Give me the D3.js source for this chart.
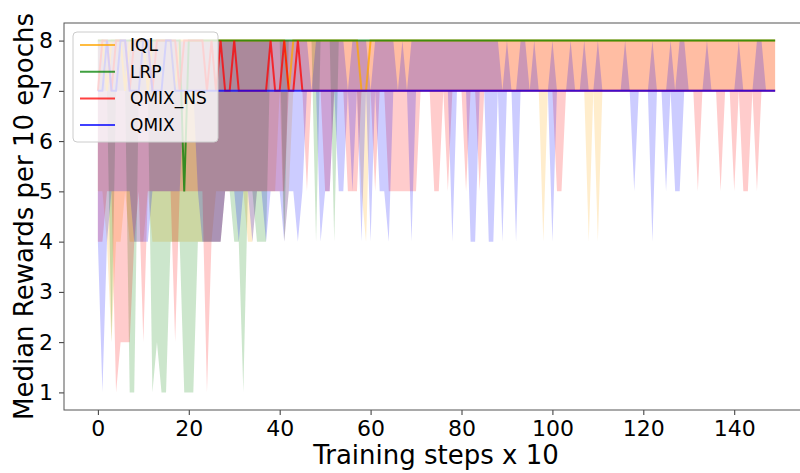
<!DOCTYPE html>
<html>
<head>
<meta charset="utf-8">
<script src="https://cdn.jsdelivr.net/npm/d3@7/dist/d3.min.js"></script>
<style>
  body { margin: 0; background: #fff; }
  text { font-family: "DejaVu Sans", sans-serif; fill: #000; }
</style>
</head>
<body>
<div id="chart"></div>
<script>
// series names and colours (legend order)
var seriesNames = ["IQL", "LRP", "QMIX_NS", "QMIX"];
var seriesColors = ["#ffa500", "#008000", "#ff0000", "#0000ff"];

// tick labels
var xTicks = [0, 20, 40, 60, 80, 100, 120, 140];
var yTicks = [1, 2, 3, 4, 5, 6, 7, 8];

// IQL median / lower / upper per training step
var iqlMed = [
  8,8,7,8,8,8,7,8,8,8, 8,7,8,8,8,8,8,7,8,8, 8,8,8,8,8,8,8,8,8,8,
  8,8,8,8,8,8,8,8,8,8, 8,8,7,8,8,8,8,8,8,8, 8,8,8,8,8,8,8,8,7,7,
  8,8,8,8,8,8,8,8,8,8, 8,8,8,8,8,8,8,8,8,8, 8,8,8,8,8,8,8,8,8,8,
  8,8,8,8,8,8,8,8,8,8, 8,8,8,8,8,8,8,8,8,8, 8,8,8,8,8,8,8,8,8,8,
  8,8,8,8,8,8,8,8,8,8, 8,8,8,8,8,8,8,8,8,8, 8,8,8,8,8,8,8,8,8,8
];
var iqlLo = [
  5,5,4,2,4,4,5,4,4,4, 4,5,4,4,4,4,4,4,4,4, 4,4,4,4,4,4,5,5,5,5,
  5,5,5,4,4,5,5,5,5,5, 7,4,5,7,7,7,7,7,7,7, 7,7,7,7,7,7,7,7,5,4,
  7,7,7,7,7,7,7,7,7,7, 7,7,7,7,7,7,7,7,7,7, 7,7,7,7,7,7,7,7,7,7,
  7,7,7,7,7,7,7,7,4,7, 7,7,7,7,7,7,7,7,4,7, 4,7,7,7,7,7,7,7,7,7,
  7,7,7,7,7,7,7,7,7,7, 7,7,7,7,7,7,7,7,7,7, 7,7,7,7,7,7,7,7,7,7
];
var iqlHi = [
  8,8,8,8,8,8,8,8,8,8, 8,8,8,8,8,8,8,8,8,8, 8,8,8,8,8,8,8,8,8,8,
  8,8,8,8,8,8,8,8,8,8, 8,8,8,8,8,8,8,8,8,8, 8,8,8,8,8,8,8,8,8,8,
  8,8,8,8,8,8,8,8,8,8, 8,8,8,8,8,8,8,8,8,8, 8,8,8,8,8,8,8,8,8,8,
  8,8,8,8,8,8,8,8,8,8, 8,8,8,8,8,8,8,8,8,8, 8,8,8,8,8,8,8,8,8,8,
  8,8,8,8,8,8,8,8,8,8, 8,8,8,8,8,8,8,8,8,8, 8,8,8,8,8,8,8,8,8,8
];

// LRP
var lrpMed = [
  8,8,8,8,8,8,8,8,8,8, 8,8,8,8,8,8,8,8,8,5, 8,8,8,8,8,8,8,8,8,8,
  8,8,8,8,8,8,8,8,8,8, 8,8,8,8,8,8,8,8,8,8, 8,8,8,8,8,8,8,8,8,8,
  8,8,8,8,8,8,8,8,8,8, 8,8,8,8,8,8,8,8,8,8, 8,8,8,8,8,8,8,8,8,8,
  8,8,8,8,8,8,8,8,8,8, 8,8,8,8,8,8,8,8,8,8, 8,8,8,8,8,8,8,8,8,8,
  8,8,8,8,8,8,8,8,8,8, 8,8,8,8,8,8,8,8,8,8, 8,8,8,8,8,8,8,8,8,8
];
var lrpLo = [
  7,7,7,2,7,7,7,1,1,7, 7,7,1,2,1,1,4,4,4,1, 1,1,4,4,4,4,4,4,5,5,
  4,4,1,5,5,4,4,4,8,8, 8,4,8,8,8,8,8,8,4,8, 8,8,4,8,8,8,8,8,8,8,
  8,8,8,8,8,8,8,8,8,8, 8,8,8,8,8,8,8,8,8,8, 8,8,8,8,8,8,8,8,8,8,
  8,8,8,8,8,8,8,8,8,8, 8,8,8,8,8,8,8,8,8,8, 8,8,8,8,8,8,8,8,8,8,
  8,8,8,8,8,8,8,8,8,8, 8,8,8,8,8,8,8,8,8,8, 8,8,8,8,8,8,8,8,8,8
];
var lrpHi = [
  8,8,8,8,8,8,8,8,8,8, 8,8,8,8,8,8,8,8,8,8, 8,8,8,8,8,8,8,8,8,8,
  8,8,8,8,8,8,8,8,8,8, 8,8,8,8,8,8,8,8,8,8, 8,8,8,8,8,8,8,8,8,8,
  8,8,8,8,8,8,8,8,8,8, 8,8,8,8,8,8,8,8,8,8, 8,8,8,8,8,8,8,8,8,8,
  8,8,8,8,8,8,8,8,8,8, 8,8,8,8,8,8,8,8,8,8, 8,8,8,8,8,8,8,8,8,8,
  8,8,8,8,8,8,8,8,8,8, 8,8,8,8,8,8,8,8,8,8, 8,8,8,8,8,8,8,8,8,8
];

// QMIX_NS
var nsMed = [
  7,8,8,7,8,8,8,7,8,8, 8,8,7,8,8,8,8,8,7,8, 8,8,8,8,7,8,7,8,7,7,
  8,7,7,7,7,7,7,7,8,7, 7,8,7,7,8,7,7,7,7,7, 7,7,7,7,7,7,7,7,7,7,
  7,7,7,7,7,7,7,7,7,7, 7,7,7,7,7,7,7,7,7,7, 7,7,7,7,7,7,7,7,7,7,
  7,7,7,7,7,7,7,7,7,7, 7,7,7,7,7,7,7,7,7,7, 7,7,7,7,7,7,7,7,7,7,
  7,7,7,7,7,7,7,7,7,7, 7,7,7,7,7,7,7,7,7,7, 7,7,7,7,7,7,7,7,7,7
];
var nsLo = [
  4,4,5,5,1,2,2,2,4,5, 2,5,5,5,5,5,5,2,5,5, 5,5,5,5,1,4,4,4,5,5,
  5,5,5,5,5,5,5,5,5,5, 5,5,7,7,7,7,5,7,7,7, 5,5,7,7,7,5,5,5,7,7,
  7,5,7,7,5,5,5,5,5,5, 5,7,7,7,5,5,7,5,7,7, 7,5,7,7,5,7,7,7,7,7,
  7,7,7,7,7,7,7,7,7,7, 7,5,5,7,7,7,7,7,7,7, 7,7,7,7,7,7,7,7,7,7,
  7,7,7,7,7,7,7,7,7,7, 7,7,5,7,7,7,7,5,7,7, 5,7,5,5,7,5,7,7,7,7
];
var nsHi = [
  8,8,8,8,8,8,8,8,8,8, 8,8,8,8,8,8,8,8,8,8, 8,8,8,8,8,8,8,8,8,8,
  8,8,8,8,8,8,8,8,8,8, 8,8,8,8,8,8,8,8,8,8, 8,8,8,8,8,8,8,8,8,8,
  8,8,8,8,8,8,8,8,8,8, 8,8,8,8,8,8,8,8,8,8, 8,8,8,8,8,8,8,8,8,8,
  8,8,8,8,8,8,8,8,8,8, 8,8,8,8,8,8,8,8,8,8, 8,8,8,8,8,8,8,8,8,8,
  8,8,8,8,8,8,8,8,8,8, 8,8,8,8,8,8,8,8,8,8, 8,8,8,8,8,8,8,8,8,8
];

// QMIX
var qmMed = [
  7,7,8,7,7,8,8,7,7,7, 8,8,7,7,7,8,8,7,7,7, 7,7,7,7,7,7,7,7,7,7,
  7,7,7,7,7,7,7,7,7,7, 7,7,7,7,7,7,7,7,7,7, 7,7,7,7,7,7,7,7,7,7,
  7,7,7,7,7,7,7,7,7,7, 7,7,7,7,7,7,7,7,7,7, 7,7,7,7,7,7,7,7,7,7,
  7,7,7,7,7,7,7,7,7,7, 7,7,7,7,7,7,7,7,7,7, 7,7,7,7,7,7,7,7,7,7,
  7,7,7,7,7,7,7,7,7,7, 7,7,7,7,7,7,7,7,7,7, 7,7,7,7,7,7,7,7,7,7
];
var qmLo = [
  4,1,4,5,5,5,5,5,4,4, 4,4,5,5,5,5,5,5,5,7, 7,7,5,4,4,4,4,4,5,5,
  5,4,5,5,4,5,5,4,5,5, 5,4,5,5,4,5,7,7,7,4, 5,5,7,5,5,7,5,7,4,7,
  4,7,5,5,4,7,7,7,7,4, 7,7,7,7,7,7,7,7,4,7, 7,7,4,4,7,7,4,4,7,4,
  7,7,4,7,7,7,7,7,7,7, 4,7,7,7,7,7,7,7,7,7, 7,7,7,7,7,7,7,7,5,7,
  7,7,4,7,7,5,7,5,5,7, 7,7,7,7,7,7,7,7,7,7, 7,7,7,7,7,7,7,7,7,7
];
var qmHi = [
  8,8,8,8,8,8,8,8,8,8, 8,8,8,8,8,8,8,8,8,8, 8,8,8,8,8,8,8,8,8,8,
  8,8,8,8,8,8,8,8,8,8, 8,8,8,8,8,8,8,7,8,8, 8,8,8,8,8,7,8,8,8,8,
  7,8,8,8,8,8,7,8,7,8, 8,8,8,8,8,8,8,8,8,8, 8,8,8,8,8,8,8,8,8,7,
  8,7,7,8,8,7,8,7,7,7, 8,7,7,7,8,7,7,8,7,7, 8,7,7,7,7,7,8,7,7,7,
  7,7,8,7,7,7,8,7,8,8, 7,7,7,7,8,7,7,7,7,7, 7,8,7,7,7,8,8,7,7,7
];

var medians = [iqlMed, lrpMed, nsMed, qmMed];
var lows = [iqlLo, lrpLo, nsLo, qmLo];
var highs = [iqlHi, lrpHi, nsHi, qmHi];

//svg size
var svgWidth = 800;
var svgHeight = 473;

//plot frame (right side runs off the picture like the original)
var margins = { top: 23, bottom: 63, left: 64, right: -9 };
var width = svgWidth - margins.left - margins.right;
var height = svgHeight - margins.top - margins.bottom;

var svg = d3.select("#chart")
  .append("svg")
  .attr("width", svgWidth)
  .attr("height", svgHeight)
  .style("display", "block");

svg.append("rect")
  .attr("width", svgWidth)
  .attr("height", svgHeight)
  .attr("fill", "#fff");

var group = svg.append("g")
  .attr("transform", `translate(${margins.left}, ${margins.top})`);

//scales with matplotlib style 5% padding
var xScale = d3.scaleLinear()
  .domain([-7.45, 156.45])
  .range([0, width]);
var yScale = d3.scaleLinear()
  .domain([0.65, 8.35])
  .range([height, 0]);

//bands first
var band = d3.area()
  .x(d => xScale(d.i))
  .y0(d => yScale(d.lo))
  .y1(d => yScale(d.hi));

seriesNames.forEach(function(name, s) {
  var rows = medians[s].map(function(m, i) {
    return { i: i, med: m, lo: lows[s][i], hi: highs[s][i] };
  });
  group.append("path")
    .datum(rows)
    .attr("d", band)
    .attr("fill", seriesColors[s])
    .attr("fill-opacity", 0.2)
    .attr("stroke", "none");
});

//median lines on top
var medLine = d3.line()
  .x((d, i) => xScale(i))
  .y(d => yScale(d));

seriesNames.forEach(function(name, s) {
  group.append("path")
    .datum(medians[s])
    .attr("d", medLine)
    .attr("fill", "none")
    .attr("stroke", seriesColors[s])
    .attr("stroke-opacity", 0.75)
    .attr("stroke-width", 2)
    .attr("stroke-linejoin", "miter");
});

//axes
var xAxis = d3.axisBottom(xScale).tickValues(xTicks).tickSize(5).tickPadding(5);
var yAxis = d3.axisLeft(yScale).tickValues(yTicks).tickSize(5).tickPadding(6);

var gx = group.append("g")
  .attr("transform", `translate(0, ${height})`)
  .call(xAxis);
var gy = group.append("g")
  .call(yAxis);

[gx, gy].forEach(function(g) {
  g.select(".domain").remove();
  g.selectAll(".tick line").attr("stroke", "#333").attr("stroke-width", 1);
  g.selectAll(".tick text")
    .style("font-family", "DejaVu Sans, sans-serif")
    .style("font-size", "22px")
    .attr("fill", "#000");
});

//frame
group.append("rect")
  .attr("x", 0)
  .attr("y", 0)
  .attr("width", width)
  .attr("height", height)
  .attr("fill", "none")
  .attr("stroke", "#555")
  .attr("stroke-width", 1);

//legend
var legend = group.append("g")
  .attr("transform", "translate(9, 9)");
legend.append("rect")
  .attr("width", 145)
  .attr("height", 110)
  .attr("rx", 4)
  .attr("fill", "#fff")
  .attr("fill-opacity", 0.8)
  .attr("stroke", "#cccccc")
  .attr("stroke-width", 1);

seriesNames.forEach(function(name, s) {
  var yRow = 13 + s * 26.7;
  legend.append("line")
    .attr("x1", 7)
    .attr("x2", 42)
    .attr("y1", yRow)
    .attr("y2", yRow)
    .attr("stroke", seriesColors[s])
    .attr("stroke-opacity", 0.75)
    .attr("stroke-width", 2);
  legend.append("text")
    .attr("x", 57)
    .attr("y", yRow + 6)
    .style("font-size", "17px")
    .text(name);
});

//axis labels
group.append("text")
  .attr("x", 436 - margins.left)
  .attr("y", height + 54)
  .attr("text-anchor", "middle")
  .style("font-size", "26px")
  .text("Training steps x 10");

group.append("text")
  .attr("transform", "rotate(-90)")
  .attr("x", -height / 2)
  .attr("y", -31)
  .attr("text-anchor", "middle")
  .style("font-size", "26px")
  .text("Median Rewards per 10 epochs");
</script>
</body>
</html>
